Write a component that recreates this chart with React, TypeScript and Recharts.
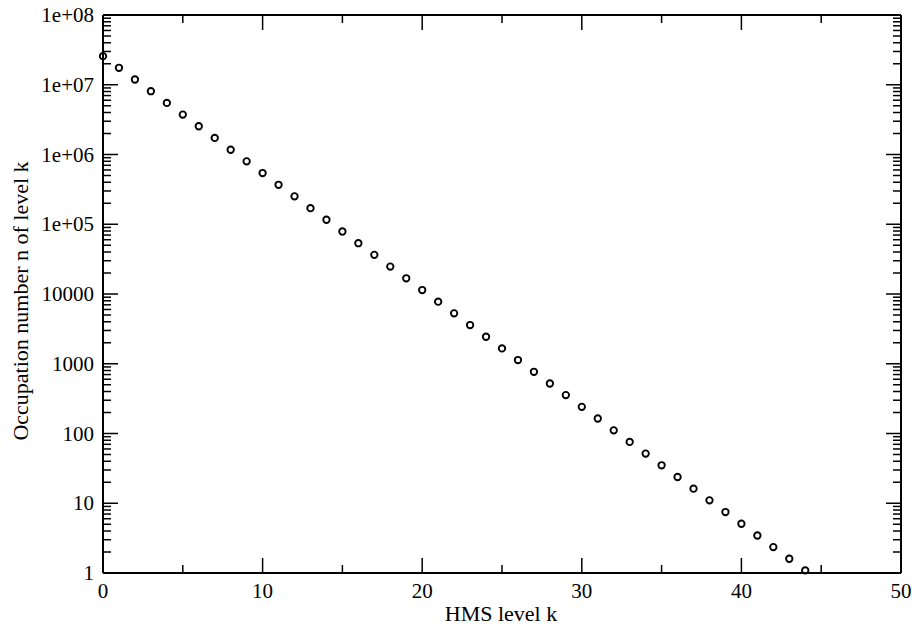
import { ScatterChart, Scatter, XAxis, YAxis } from "recharts";

// HMS level k and occupation number n(k)
const levels = [
  0, 1, 2, 3, 4, 5, 6, 7, 8, 9, 10, 11, 12, 13, 14, 15, 16, 17, 18, 19, 20, 21,
  22, 23, 24, 25, 26, 27, 28, 29, 30, 31, 32, 33, 34, 35, 36, 37, 38, 39, 40,
  41, 42, 43, 44,
];
const occupation = [
  2.57e7, 1.75e7, 1.19e7, 8.08e6, 5.49e6, 3.73e6, 2.54e6, 1.73e6, 1.17e6,
  7.98e5, 5.42e5, 3.68e5, 2.51e5, 1.7e5, 1.16e5, 7.87e4, 5.35e4, 3.64e4,
  2.47e4, 1.68e4, 1.14e4, 7770, 5280, 3590, 2440, 1660, 1130, 767, 521, 355,
  241, 164, 111, 75.7, 51.5, 35.0, 23.8, 16.2, 11.0, 7.48, 5.08, 3.45, 2.35,
  1.6, 1.09,
];

const xMajor = [0, 10, 20, 30, 40, 50];
const xMinor = [5, 15, 25, 35, 45];
const yMajor = [1, 10, 100, 1000, 10000, 1e5, 1e6, 1e7, 1e8];
const yMinorMult = [2, 3, 4, 5, 6, 7, 8, 9];
const yMinor = yMajor.slice(0, -1).flatMap((d) => yMinorMult.map((m) => m * d));

const data = levels.map((k, i) => ({ k, n: occupation[i] }));

const FONT = "'Liberation Serif', 'DejaVu Serif', serif";
const TICK_FS = 21;
const TITLE_FS = 22;
const MAJOR = 15;
const MINOR = 8;

function yLabel(v: number) {
  if (v < 1e5) return String(v);
  const e = Math.round(Math.log10(v));
  return `1e+${e < 10 ? "0" + e : e}`;
}

function isDecade(v: number) {
  const l = Math.log10(v);
  return Math.abs(l - Math.round(l)) < 1e-9;
}

function XTick(props: any) {
  const { x, y, payload, side } = props;
  const major = xMajor.includes(payload.value);
  const len = major ? MAJOR : MINOR;
  const dir = side === "top" ? 1 : -1;
  return (
    <g>
      <line x1={x} y1={y} x2={x} y2={y + dir * len} stroke="#000" strokeWidth={1.5} />
      {major && side !== "top" && (
        <text x={x} y={y + 25} textAnchor="middle" fontFamily={FONT} fontSize={TICK_FS} fill="#000">
          {payload.value}
        </text>
      )}
    </g>
  );
}

function YTick(props: any) {
  const { x, y, payload, side } = props;
  const major = isDecade(payload.value);
  const len = major ? MAJOR : MINOR;
  const dir = side === "right" ? -1 : 1;
  return (
    <g>
      <line x1={x} y1={y} x2={x + dir * len} y2={y} stroke="#000" strokeWidth={1.5} />
      {major && side !== "right" && (
        <text x={x - 9} y={y + 7} textAnchor="end" fontFamily={FONT} fontSize={TICK_FS} fill="#000">
          {yLabel(payload.value)}
        </text>
      )}
    </g>
  );
}

const Ring = (p: any) => (
  <circle cx={p.cx} cy={p.cy} r={3.2} fill="none" stroke="#000" strokeWidth={1.9} />
);

export default function App() {
  const axisLine = { stroke: "#000", strokeWidth: 2 };
  const xTicks = [...xMajor, ...xMinor].sort((a, b) => a - b);
  const yTicks = [...yMajor, ...yMinor].sort((a, b) => a - b);
  const title = {
    position: "absolute" as const,
    fontFamily: FONT,
    fontSize: TITLE_FS,
    lineHeight: `${TITLE_FS}px`,
    whiteSpace: "nowrap" as const,
  };
  return (
    <div style={{ position: "absolute", left: 0, top: 0, width: 915, height: 628, background: "#fff" }}>
      <ScatterChart width={915} height={628} margin={{ top: 14, right: 13, bottom: 54, left: 102 }}>
        <XAxis
          xAxisId="b"
          dataKey="k"
          type="number"
          domain={[0, 50]}
          ticks={xTicks}
          interval={0}
          height={1}
          tickSize={0}
          tickMargin={0}
          tickLine={false}
          axisLine={axisLine}
          tick={<XTick side="bottom" />}
        />
        <XAxis
          xAxisId="t"
          orientation="top"
          dataKey="k"
          type="number"
          domain={[0, 50]}
          ticks={xTicks}
          interval={0}
          height={1}
          tickSize={0}
          tickMargin={0}
          tickLine={false}
          axisLine={axisLine}
          tick={<XTick side="top" />}
        />
        <YAxis
          yAxisId="l"
          dataKey="n"
          type="number"
          scale="log"
          domain={[1, 1e8]}
          ticks={yTicks}
          interval={0}
          width={1}
          tickSize={0}
          tickMargin={0}
          tickLine={false}
          axisLine={axisLine}
          tick={<YTick side="left" />}
        />
        <YAxis
          yAxisId="r"
          orientation="right"
          dataKey="n"
          type="number"
          scale="log"
          domain={[1, 1e8]}
          ticks={yTicks}
          interval={0}
          width={1}
          tickSize={0}
          tickMargin={0}
          tickLine={false}
          axisLine={axisLine}
          tick={<YTick side="right" />}
        />
        <Scatter data={data} xAxisId="t" yAxisId="r" shape={() => <g />} isAnimationActive={false} />
        <Scatter data={data} xAxisId="b" yAxisId="l" shape={Ring} isAnimationActive={false} />
      </ScatterChart>
      <div style={{ ...title, left: 501, top: 614, transform: "translate(-50%, -50%)" }}>
        HMS level k
      </div>
      <div style={{ ...title, left: 21, top: 301, transform: "translate(-50%, -50%) rotate(-90deg)" }}>
        Occupation number n of level k
      </div>
    </div>
  );
}
